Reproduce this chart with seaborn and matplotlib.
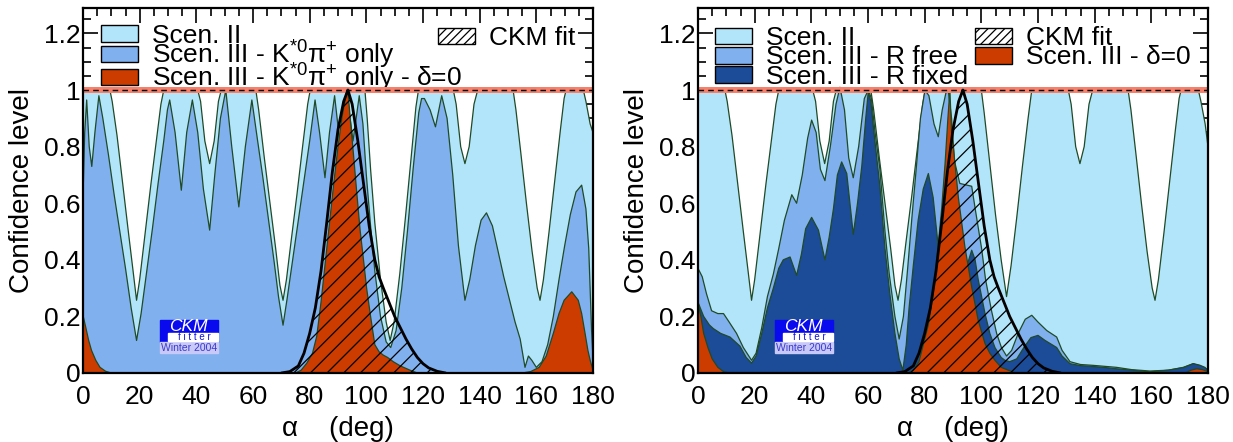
import matplotlib
matplotlib.use("Agg")
import matplotlib.pyplot as plt
import seaborn as sns
from matplotlib.patches import Patch, Rectangle
from matplotlib.ticker import MultipleLocator, FuncFormatter

# ---- values: (alpha in deg, confidence level) ----
scen2_left = [(0, 1.0), (9.5, 1.0), (10.3, 0.96), (12, 0.84), (14, 0.67), (16, 0.5), (17.8, 0.35),
              (18.9, 0.257), (20, 0.33), (22, 0.5), (24, 0.67), (26, 0.83), (27.5, 0.95), (28.5, 1.0),
              (40.5, 1.0), (41.5, 0.96), (43, 0.82), (44.7, 0.74), (46.3, 0.82), (47.8, 0.96), (48.8, 1.0),
              (61, 1.0), (62, 0.93), (64, 0.76), (66, 0.6), (68, 0.44), (69.5, 0.31), (70.6, 0.257),
              (71.8, 0.33), (73.5, 0.47), (75.5, 0.63), (77.5, 0.8), (79.3, 0.95), (80.2, 1.0),
              (99.5, 1.0), (100.3, 0.9), (101.5, 0.72), (103, 0.53), (105, 0.33), (107, 0.18),
              (108.4, 0.115), (109.8, 0.18), (111.8, 0.35), (113.8, 0.55), (115.8, 0.76), (117.5, 0.94),
              (118.4, 1.0), (130.7, 1.0), (131.7, 0.95), (133.3, 0.8), (134.8, 0.74), (136.3, 0.8),
              (138, 0.95), (139.3, 1.0), (151.8, 1.0), (152.8, 0.93), (154.5, 0.78), (156.5, 0.6),
              (158.5, 0.43), (160.3, 0.3), (161.3, 0.257), (162.5, 0.33), (164.5, 0.5), (166.5, 0.68),
              (168.5, 0.86), (169.8, 0.97), (170.5, 1.0), (176.6, 1.0), (177.5, 0.96), (179, 0.88),
              (180, 0.85)]

scen2_right = [(0, 1.0), (9.5, 1.0), (10.3, 0.96), (12, 0.84), (14, 0.67), (16, 0.5), (17.8, 0.35),
               (18.9, 0.257), (20, 0.33), (22, 0.5), (24, 0.67), (26, 0.83), (27.5, 0.95), (28.5, 1.0),
               (40.5, 1.0), (41.5, 0.96), (43, 0.82), (44.7, 0.74), (46.3, 0.82), (47.8, 0.96), (48.8, 1.0),
               (61, 1.0), (62, 0.93), (64, 0.76), (66, 0.6), (68, 0.44), (69.5, 0.31), (70.6, 0.257),
               (71.8, 0.33), (73.5, 0.47), (75.5, 0.63), (77.5, 0.8), (79.3, 0.95), (80.2, 1.0),
               (100, 1.0), (101, 0.92), (103, 0.74), (105, 0.56), (107, 0.4), (108.9, 0.27),
               (110.5, 0.38), (112.5, 0.55), (114.5, 0.73), (116.5, 0.9), (117.8, 1.0),
               (130.7, 1.0), (131.7, 0.95), (133.3, 0.8), (134.8, 0.74), (136.3, 0.8),
               (138, 0.95), (139.3, 1.0), (151.8, 1.0), (152.8, 0.93), (154.5, 0.78), (156.5, 0.6),
               (158.5, 0.43), (160.3, 0.3), (161.3, 0.257), (162.5, 0.33), (164.5, 0.5), (166.5, 0.68),
               (168.5, 0.86), (169.8, 0.97), (170.5, 1.0), (176.6, 1.0), (177.5, 0.96), (179, 0.88),
               (180, 0.8)]

scen3_kpi = [(0, 0.62), (0.6, 0.85), (1.3, 0.965), (2.2, 0.8), (3.1, 0.73), (4.2, 0.85),
             (5.6, 0.98), (7, 0.9), (9, 0.77), (11, 0.63), (13, 0.5), (15, 0.37), (17, 0.23),
             (18.9, 0.115), (20.5, 0.21), (22.5, 0.36), (24.5, 0.51), (26.5, 0.67), (28.5, 0.82),
             (29.8, 0.93), (30.6, 0.965), (32.5, 0.85), (34.7, 0.646), (36.6, 0.85), (38.6, 0.965),
             (40.5, 0.85), (42.5, 0.65), (44.7, 0.505), (46.5, 0.7), (48.5, 0.9), (50.4, 1.0),
             (52.5, 0.8), (55, 0.587), (57.3, 0.8), (59.6, 0.965), (61.5, 0.83), (63.5, 0.69),
             (65.5, 0.54), (67.5, 0.39), (69, 0.27), (70.6, 0.169), (72, 0.26), (74, 0.4),
             (76, 0.54), (78, 0.68), (80, 0.82), (81.9, 0.965), (83.5, 0.85), (85.4, 0.69),
             (87, 0.85), (88.8, 0.98), (90.8, 0.8), (93, 1.0), (95.3, 0.82), (97.5, 0.98),
             (98.8, 0.88), (100, 0.7), (101.5, 0.52), (103, 0.36), (105, 0.2), (107, 0.11),
             (108.6, 0.09), (110.5, 0.15), (112.5, 0.3), (114.5, 0.5), (116.5, 0.72), (118.5, 0.92),
             (119.5, 0.97), (120.5, 0.97), (122.5, 0.93), (124.4, 0.87), (126.6, 0.98), (128.5, 0.9),
             (130.5, 0.7), (132.5, 0.45), (134.8, 0.257), (136.5, 0.33), (138.5, 0.45), (140.5, 0.54),
             (142.4, 0.566), (144.5, 0.52), (146.5, 0.43), (148.5, 0.34), (150.5, 0.26), (152.5, 0.18),
             (154.3, 0.12), (156, 0.02), (157.2, 0.06), (158.4, 0.045), (160, 0.02), (162, 0.04),
             (164, 0.1), (166, 0.2), (168, 0.33), (170, 0.45), (172, 0.56), (174, 0.64), (176, 0.664),
             (177.5, 0.58), (178.5, 0.44), (179.5, 0.15), (180, 0.05)]

scen3_kpi_d0 = [(0, 0.204), (1, 0.16), (2, 0.115), (3, 0.08), (4.5, 0.045), (6, 0.02), (8, 0.006),
                (10, 0.0), (75, 0.0), (77, 0.01), (79, 0.035), (81, 0.07), (82.5, 0.13), (84, 0.25),
                (85.5, 0.39), (87, 0.53), (88.5, 0.67), (90, 0.8), (91.5, 0.91), (92.8, 0.98),
                (93.5, 1.0), (94.3, 0.9), (95.4, 0.78), (96.6, 0.64), (97.8, 0.505), (99, 0.4),
                (100.1, 0.3), (101.5, 0.2), (103, 0.1), (104.5, 0.075), (106, 0.063), (107.5, 0.055),
                (109.5, 0.04), (112, 0.025), (115.4, 0.01), (118, 0.0), (155, 0.0), (158, 0.005),
                (161, 0.02), (163.5, 0.06), (166, 0.14), (168, 0.21), (169.8, 0.257), (172.5, 0.287),
                (174.8, 0.257), (176, 0.21), (177.2, 0.14), (178.2, 0.08), (179, 0.045), (180, 0.01)]

scen3_rfree = [(0, 0.37), (1.5, 0.34), (3, 0.28), (4.8, 0.22), (7, 0.21), (9, 0.21), (11, 0.18),
               (13.6, 0.14), (16, 0.09), (18.9, 0.045), (20.5, 0.07), (22.5, 0.16), (24.5, 0.27),
               (26.6, 0.35), (28.5, 0.44), (30.5, 0.54), (33.1, 0.63), (34.8, 0.6), (36.8, 0.7),
               (38.7, 0.83), (40.1, 0.894), (41.7, 0.85), (43.2, 0.72), (44.8, 0.68), (46.7, 0.8),
               (48.7, 0.95), (50.1, 1.01), (51.7, 0.93), (53.2, 0.76), (54.8, 0.69), (56.7, 0.8),
               (58.7, 0.97), (60.1, 1.0), (61.2, 0.97), (62.5, 0.85), (64.2, 0.72), (66, 0.5),
               (67.5, 0.35), (69.5, 0.2), (71, 0.12), (72.5, 0.2), (74, 0.37), (75.5, 0.55),
               (77, 0.72), (78.5, 0.9), (80.1, 1.0), (81.5, 0.98), (83.3, 0.88), (84.8, 0.835),
               (86.2, 0.93), (87.5, 0.99), (88.3, 1.0), (89.5, 0.9), (90.5, 0.75), (92.4, 0.67),
               (96.6, 0.66), (98, 0.57), (100.1, 0.44), (101.5, 0.33), (103.6, 0.22), (105.4, 0.14),
               (107.1, 0.09), (108.9, 0.06), (110.7, 0.08), (113, 0.14), (115.5, 0.19), (117.8, 0.204),
               (120, 0.18), (123.1, 0.15), (126.6, 0.127), (128.5, 0.08), (131.3, 0.04), (135, 0.03),
               (139.5, 0.027), (147.7, 0.02), (153, 0.012), (159.5, 0.007), (166, 0.01), (171.3, 0.02),
               (174.8, 0.033), (178.4, 0.02), (180, 0.01)]

scen3_rfixed = [(0, 0.25), (2, 0.2), (4, 0.17), (5.4, 0.157), (8, 0.14), (11.3, 0.127), (14.8, 0.095),
                (17, 0.055), (18.9, 0.035), (20.5, 0.06), (22.5, 0.14), (24.5, 0.23), (26.6, 0.3),
                (28.5, 0.37), (30.1, 0.4), (32.5, 0.41), (34.8, 0.345), (36.5, 0.42), (38, 0.51),
                (40.1, 0.55), (42.5, 0.505), (44.8, 0.4), (46.3, 0.48), (47.8, 0.58), (49.2, 0.7),
                (50.7, 0.746), (52.5, 0.705), (54.8, 0.49), (56.3, 0.6), (57.8, 0.73), (59.2, 0.9),
                (60.1, 0.994), (61, 0.96), (62, 0.86), (64.2, 0.66), (66, 0.44), (67.7, 0.28),
                (69.5, 0.14), (71, 0.05), (72.3, 0.01), (73.5, 0.1), (74.5, 0.23), (76, 0.38),
                (77.7, 0.54), (79.5, 0.65), (81.3, 0.705), (83, 0.62), (84.8, 0.446), (86, 0.3),
                (87.1, 0.21), (88.5, 0.1), (90, 0.05), (91.5, 0.1), (93, 0.25), (94.8, 0.375),
                (96.6, 0.434), (97.8, 0.4), (98.9, 0.33), (101.3, 0.21), (103, 0.14), (104.8, 0.09),
                (107, 0.055), (108.3, 0.045), (110, 0.04), (112.5, 0.05), (115, 0.09), (117.5, 0.125),
                (120, 0.133), (122.5, 0.115), (126.6, 0.09), (128.5, 0.06), (131.3, 0.033), (135, 0.026),
                (138.3, 0.024), (143, 0.02), (147.7, 0.015), (153, 0.01), (159.5, 0.004), (166, 0.01),
                (171.3, 0.019), (174.8, 0.033), (177, 0.028), (178.9, 0.02), (180, 0.01)]

scen3_d0 = [(0, 0.25), (1, 0.2), (2, 0.14), (3.5, 0.09), (5, 0.05), (7, 0.02), (9, 0.005), (11, 0.0),
            (74, 0.0), (76, 0.01), (78, 0.04), (79.5, 0.1), (81.3, 0.17), (83, 0.28), (84.5, 0.42),
            (86, 0.58), (87.2, 0.74), (88.2, 0.9), (88.9, 1.0), (89.5, 0.85), (90.1, 0.8), (91.9, 0.62),
            (94.2, 0.446), (96.6, 0.304), (98.9, 0.186), (101.3, 0.104), (103, 0.07), (104.8, 0.045),
            (107, 0.02), (109.5, 0.01), (112, 0.0), (172, 0.0), (174, 0.01), (176, 0.015), (178, 0.012),
            (180, 0.005)]

ckm_fit = [(70, 0.0), (73, 0.005), (76, 0.025), (78, 0.07), (80, 0.14), (82, 0.23), (84, 0.36),
           (86, 0.53), (88, 0.71), (90, 0.86), (92, 0.96), (93.5, 1.0), (95, 0.95), (97, 0.82),
           (99, 0.67), (101, 0.52), (103, 0.4), (104.5, 0.34), (106, 0.3), (108, 0.25), (110, 0.2),
           (112, 0.16), (114, 0.12), (116, 0.085), (118, 0.055), (120, 0.033), (122, 0.018),
           (125, 0.006), (128, 0.0)]

c_light = '#b3e5fa'
c_mid = '#80b0ee'
c_dark = '#1c4b97'
c_red = '#cc3c00'
c_edge = '#1f4a26'

sns.set_style('ticks')
plt.rcParams['font.family'] = ['Liberation Sans', 'DejaVu Sans']
plt.rcParams['mathtext.fontset'] = 'custom'
plt.rcParams['mathtext.rm'] = 'Liberation Sans'
plt.rcParams['mathtext.it'] = 'Liberation Sans:italic'
plt.rcParams['mathtext.bf'] = 'Liberation Sans:bold'
plt.rcParams['hatch.linewidth'] = 0.9
for key in ['text.color', 'axes.labelcolor', 'xtick.color', 'ytick.color', 'axes.edgecolor']:
    plt.rcParams[key] = 'black'


def draw_area(ax, data, color, z):
    a, c = zip(*data)
    ax.fill_between(a, 0, c, facecolor=color, edgecolor='none', zorder=z)
    sns.lineplot(x=list(a), y=list(c), ax=ax, color=c_edge, lw=0.9, zorder=z + 0.1)


def draw_ckm(ax):
    a, c = zip(*ckm_fit)
    ax.fill_between(a, 0, c, facecolor='none', edgecolor='black', hatch='//', lw=0, zorder=8)
    sns.lineplot(x=list(a), y=list(c), ax=ax, color='black', lw=2.0, zorder=9)


def draw_logo(ax):
    tr = ax.transAxes
    ax.add_patch(Rectangle((0.151, 0.085), 0.114, 0.06, transform=tr, color='#0a0aee', zorder=10))
    ax.add_patch(Rectangle((0.167, 0.087), 0.098, 0.022, transform=tr, color='white', zorder=11))
    ax.add_patch(Rectangle((0.151, 0.055), 0.114, 0.03, transform=tr, color='#c9c9f7', zorder=10))
    ax.text(0.206, 0.128, 'CKM', transform=tr, color='white', fontsize=12.5, style='italic',
            ha='center', va='center', zorder=12)
    ax.text(0.218, 0.098, 'f i t t e r', transform=tr, color='#1414d8', fontsize=7,
            ha='center', va='center', zorder=12)
    ax.text(0.208, 0.069, 'Winter 2004', transform=tr, color='#3a3ad0', fontsize=7.5,
            ha='center', va='center', zorder=12)


def style_axes(ax):
    ax.set_xlim(0, 180)
    ax.set_ylim(0, 1.29)
    ax.axhspan(0.988, 1.012, color='#f5806c', lw=0, zorder=7.5)
    ax.axhline(1.0, color='black', lw=1.0, ls=(0, (4, 3)), zorder=7.6)
    ax.xaxis.set_major_locator(MultipleLocator(20))
    ax.xaxis.set_minor_locator(MultipleLocator(5))
    ax.yaxis.set_major_locator(MultipleLocator(0.2))
    ax.yaxis.set_minor_locator(MultipleLocator(0.05))
    ax.yaxis.set_major_formatter(FuncFormatter(lambda v, _: f'{v:g}'))
    ax.tick_params(which='both', direction='in', top=True, right=True, labelsize=19, width=1.2)
    ax.tick_params(which='major', length=11)
    ax.tick_params(which='minor', length=6)
    ax.tick_params(axis='x', which='major', pad=9)
    ax.tick_params(axis='y', which='major', pad=2)
    for s in ax.spines.values():
        s.set_linewidth(1.6)
        s.set_zorder(20)
    ax.set_xlabel('α    (deg)', fontsize=20, labelpad=5)
    ax.set_ylabel('Confidence level', fontsize=20, labelpad=6)


leg_kw = dict(frameon=False, fontsize=19, handlelength=1.4, handleheight=0.6,
              handletextpad=0.55, borderpad=0, borderaxespad=0, loc='upper left')

fig = plt.figure(figsize=(12.33, 4.42), dpi=100)
ax1 = fig.add_axes([83 / 1233, 69 / 442, 510 / 1233, 365 / 442])
ax2 = fig.add_axes([698 / 1233, 69 / 442, 510 / 1233, 365 / 442])

# left panel
draw_area(ax1, scen2_left, c_light, 2)
draw_area(ax1, scen3_kpi, c_mid, 3)
draw_area(ax1, scen3_kpi_d0, c_red, 5)
draw_ckm(ax1)
draw_logo(ax1)
style_axes(ax1)

h_light = Patch(facecolor=c_light, edgecolor='black', lw=1)
h_mid = Patch(facecolor=c_mid, edgecolor='black', lw=1)
h_dark = Patch(facecolor=c_dark, edgecolor='black', lw=1)
h_red = Patch(facecolor=c_red, edgecolor='black', lw=1)
h_ckm = Patch(facecolor='white', edgecolor='black', lw=1, hatch='////')

leg = ax1.legend([h_light, h_mid, h_red],
                 ['Scen. II', r'Scen. III - K$^{*0}$π$^{+}$ only', r'Scen. III - K$^{*0}$π$^{+}$ only - δ=0'],
                 bbox_to_anchor=(0.035, 0.957), labelspacing=-0.35, **leg_kw)
ax1.add_artist(leg)
ax1.legend([h_ckm], ['CKM fit'], bbox_to_anchor=(0.696, 0.95), **leg_kw)

# right panel
draw_area(ax2, scen2_right, c_light, 2)
draw_area(ax2, scen3_rfree, c_mid, 3)
draw_area(ax2, scen3_rfixed, c_dark, 4)
draw_area(ax2, scen3_d0, c_red, 5)
draw_ckm(ax2)
draw_logo(ax2)
style_axes(ax2)

ax2.legend([h_light, h_mid, h_dark, h_ckm, h_red],
           ['Scen. II', 'Scen. III - R free', 'Scen. III - R fixed', 'CKM fit', 'Scen. III - δ=0'],
           ncol=2, columnspacing=0.25, labelspacing=-0.18, bbox_to_anchor=(0.033, 0.95), **leg_kw)

fig.savefig('out.png', dpi=100)
